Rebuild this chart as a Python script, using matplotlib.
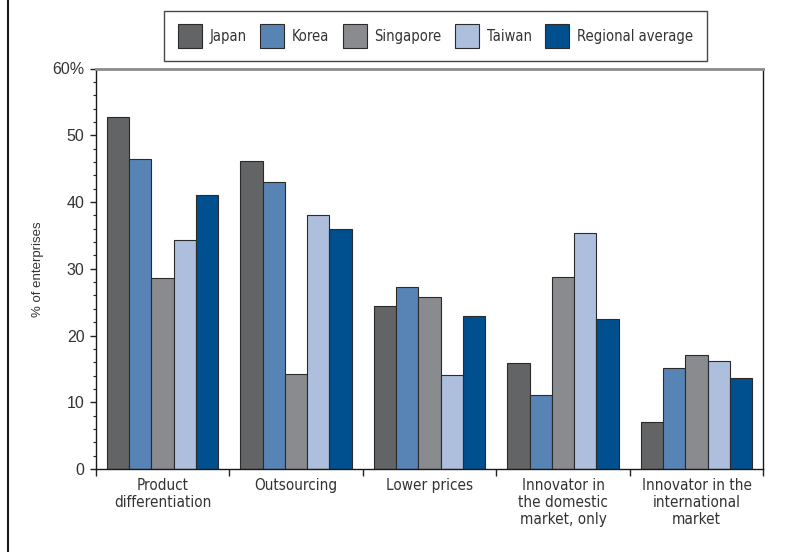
import matplotlib
matplotlib.use("Agg")
import matplotlib.pyplot as plt
from matplotlib.lines import Line2D
from matplotlib.ticker import MultipleLocator, FuncFormatter
from matplotlib import font_manager
import numpy as np

categories = ["Product\ndifferentiation", "Outsourcing", "Lower prices",
              "Innovator in\nthe domestic\nmarket, only",
              "Innovator in the\ninternational\nmarket"]
series_names = ["Japan", "Korea", "Singapore", "Taiwan", "Regional average"]
japan = [52.7, 46.2, 24.4, 15.9, 7.0]
korea = [46.5, 43.0, 27.3, 11.1, 15.2]
singapore = [28.6, 14.3, 25.7, 28.7, 17.1]
taiwan = [34.3, 38.0, 14.1, 35.3, 16.2]
regional = [41.1, 36.0, 22.9, 22.4, 13.7]
colors = ["#636466", "#5783b5", "#8a8b8f", "#adbfdc", "#00508f"]

# pick a condensed face if one is installed
narrow_file = None
for f in font_manager.fontManager.ttflist:
    n = (f.name + " " + f.fname).lower()
    if ("narrow" in n or "condensed" in n) and f.style == "normal" \
            and f.weight in (400, "normal", "regular") and "mono" not in n \
            and "serif" not in f.name.lower():
        narrow_file = f.fname
        break
plain = ["Liberation Sans", "DejaVu Sans"]
if narrow_file:
    narrow_prop = lambda s: font_manager.FontProperties(fname=narrow_file, size=s)
    xl_size, lg_size = 11, 10.5
else:
    narrow_prop = lambda s: font_manager.FontProperties(family=plain, size=s)
    xl_size, lg_size = 10, 9.5

fig = plt.figure(figsize=(7.89, 5.52), dpi=100)
ax = fig.add_axes([95.7/789, 1-469/552, (763.3-95.7)/789, (469-68.5)/552])

data = [japan, korea, singapore, taiwan, regional]
x = np.arange(len(categories))
w = 0.167
for j, (vals, name, c) in enumerate(zip(data, series_names, colors)):
    ax.bar(x + (j - 2) * w, vals, width=w, color=c, edgecolor="#2b2b2b",
           linewidth=0.8, label=name, zorder=2)

ax.set_xlim(-0.5, len(categories) - 0.5)
ax.set_ylim(0, 60)
ax.yaxis.set_major_locator(MultipleLocator(10))
ax.yaxis.set_minor_locator(MultipleLocator(2))
ax.yaxis.set_major_formatter(FuncFormatter(lambda v, p: "60%" if abs(v-60) < 1e-6 else f"{int(v)}"))
ax.tick_params(axis="y", which="major", length=4, width=1, color="#222222",
               labelsize=11.5, labelcolor="#333333", pad=4)
ax.tick_params(axis="y", which="minor", length=2, width=0.8, color="#222222")
for lab in ax.get_yticklabels():
    lab.set_family(plain)

ax.set_xticks(np.arange(-0.5, len(categories), 1.0))
ax.set_xticklabels([])
ax.tick_params(axis="x", which="major", length=5, width=1, color="#222222")
for i, cat in enumerate(categories):
    ax.text(i, -1.4, cat, ha="center", va="top", fontproperties=narrow_prop(xl_size),
            color="#333333", linespacing=1.15, transform=ax.transData)

ax.set_ylabel("% of enterprises", family=plain, fontsize=9.5, color="#333333")
ax.yaxis.set_label_coords(-0.078, 0.5)

for s in ["left", "bottom", "right"]:
    ax.spines[s].set_color("#1a1a1a")
    ax.spines[s].set_linewidth(1.0)
ax.spines["top"].set_color("#8c8c8c")
ax.spines["top"].set_linewidth(2.0)

leg = ax.legend(loc="center", bbox_to_anchor=(0.509, 1.0805), ncol=5,
                frameon=True, fancybox=False, handlelength=1.65, handleheight=2.15,
                handletextpad=0.55, columnspacing=0.9, borderpad=0.9,
                prop=narrow_prop(lg_size))
leg.get_frame().set_edgecolor("#1a1a1a")
leg.get_frame().set_linewidth(1.0)
for t in leg.get_texts():
    t.set_color("#333333")

fig.add_artist(Line2D([7.5/789, 7.5/789], [0, 1], transform=fig.transFigure,
                      color="#1a1a1a", linewidth=1.5))

fig.savefig("out.png", dpi=100)
